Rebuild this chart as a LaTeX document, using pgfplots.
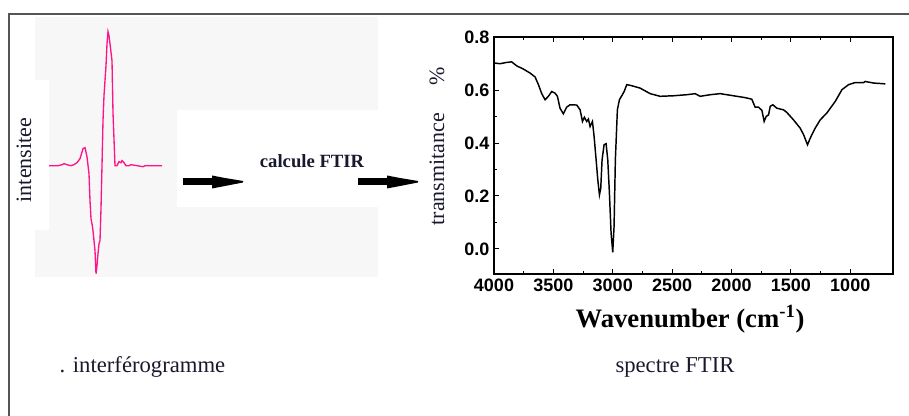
\documentclass[border=0pt]{standalone}
\usepackage{fontspec}
\setmainfont{Liberation Serif}
\newfontfamily\arial{Liberation Sans}
\usepackage{pgfplots}
\pgfplotsset{compat=1.18}
\usepackage{pgfplotstable}
\usetikzlibrary{arrows.meta}

\definecolor{pinkline}{RGB}{255,20,135}
\definecolor{framegray}{RGB}{85,85,85}
\definecolor{txtdark}{RGB}{25,25,45}

% interferogram (arbitrary units)
\pgfplotstableread{
x y
49 0
58 0
62 1
64 2
67 1
71 0
74 1
77 3
80 7
83 17
85 18
87 9
89 -8
90 -35
91 -53
92 -58
93 -65
95 -85
96 -108
97 -100
98 -88
99 -78
100 -75
101 -43
102 0
103 45
104 70
106 100
107 122
108 134
109 130
110 122
112 105
113 53
115 0
117 0
119 4
121 3
122 5
124 3
126 0
129 0
131 1
137 0
143 -1
145 0
162 0
}\interf

% FTIR spectrum
\pgfplotstableread{
wn t
4000 0.702
3949 0.699
3893 0.704
3851 0.706
3809 0.691
3753 0.679
3697 0.664
3654 0.649
3626 0.620
3598 0.586
3570 0.563
3542 0.576
3514 0.594
3486 0.588
3466 0.576
3444 0.531
3416 0.510
3388 0.535
3360 0.544
3303 0.543
3275 0.525
3255 0.481
3239 0.497
3219 0.481
3205 0.490
3191 0.462
3171 0.481
3157 0.424
3140 0.336
3126 0.261
3112 0.204
3101 0.229
3090 0.336
3073 0.393
3056 0.397
3042 0.336
3028 0.210
3014 0.059
3000 -0.013
2989 0.084
2978 0.336
2961 0.525
2944 0.563
2924 0.578
2904 0.594
2882 0.620
2840 0.616
2770 0.607
2685 0.586
2601 0.576
2489 0.578
2376 0.582
2306 0.586
2264 0.576
2180 0.582
2095 0.586
1983 0.578
1885 0.571
1829 0.565
1801 0.535
1773 0.535
1744 0.523
1725 0.481
1708 0.500
1688 0.506
1674 0.538
1652 0.544
1618 0.531
1562 0.525
1534 0.515
1478 0.487
1422 0.456
1393 0.431
1360 0.393
1337 0.418
1295 0.456
1253 0.487
1197 0.513
1126 0.557
1070 0.601
1014 0.620
958 0.628
888 0.628
874 0.632
803 0.626
705 0.623
}\ftir

\newcommand{\fatarrow}[3]{% x0, x1, y
  \fill[black] (#1,#3-3.5) rectangle (#2-28,#3+3.5);
  \fill[black] (#2-31,#3+6.5) -- (#2-18,#3+4) -- (#2,#3+1) -- (#2,#3-0.5)
    -- (#2-18,#3-4) -- (#2-31,#3-6.5) -- cycle;}

\begin{document}
\begin{tikzpicture}[x=0.75pt,y=0.75pt]
\useasboundingbox (0,0) rectangle (909,416);

% faint background of the left panel
\fill[black!3] (35,399) rectangle (378,139);
\fill[white] (177,306) rectangle (378,209);
\fill[white] (35,336) rectangle (49,186);

% frame
\draw[framegray, line width=1.3pt] (9,0) -- (9,402) -- (909,402);

% interferogram
\begin{axis}[
  at={(36.75pt,105.225pt)}, anchor=south west,
  scale only axis, width=84.75pt, height=183pt,
  xmin=49, xmax=162, ymin=-110, ymax=134,
  hide axis, clip=false,
]
\addplot[pinkline, line width=1pt] table[x=x, y=y] {\interf};
\end{axis}

\node[rotate=90, txtdark, font=\fontsize{16.5}{18}\selectfont] at (24,256) {intensitee};
\node[anchor=base, txtdark, font=\fontsize{14}{16}\selectfont\bfseries] at (312,248) {calcule FTIR};
\fatarrow{183}{243}{234}
\fatarrow{358}{418}{234}

% FTIR spectrum
\begin{axis}[
  at={(370.5pt,106.5pt)}, anchor=south west,
  scale only axis, width=299.25pt, height=177.75pt,
  x dir=reverse,
  xmin=640, xmax=4000, ymin=-0.095, ymax=0.8,
  xtick={1000,1500,2000,2500,3000,3500,4000},
  ytick={0,0.2,0.4,0.6,0.8},
  minor x tick num=1, minor y tick num=1,
  tick align=inside, xtick pos=both, ytick pos=left,
  major tick length=3.5pt, minor tick length=2.5pt,
  axis line style={line width=0.9pt},
  every tick/.style={line width=0.6pt, black},
  tick label style={font=\arial\bfseries\fontsize{13.5}{15}\selectfont},
  /pgf/number format/assume math mode=true,
  xticklabel style={/pgf/number format/set thousands separator={}},
  yticklabel style={/pgf/number format/.cd, fixed, fixed zerofill, precision=1},
  clip=false,
]
\addplot[black, line width=1.1pt] table[x=wn, y=t] {\ftir};
\end{axis}

\node[rotate=90, anchor=base west, txtdark, font=\fontsize{16.5}{18}\selectfont] at (444,186) {transmitance};
\node[rotate=90, anchor=base west, txtdark, font=\fontsize{16.5}{18}\selectfont] at (444,326) {\%};
\node[anchor=base, font=\fontsize{20}{22}\selectfont\bfseries] at (690,88) {Wavenumber (cm\textsuperscript{-1})};

\node[anchor=base west, txtdark, font=\fontsize{17}{19}\selectfont] at (55,43) {. interférogramme};
\node[anchor=base, txtdark, font=\fontsize{17}{19}\selectfont] at (675,43) {spectre FTIR};
\end{tikzpicture}
\end{document}
